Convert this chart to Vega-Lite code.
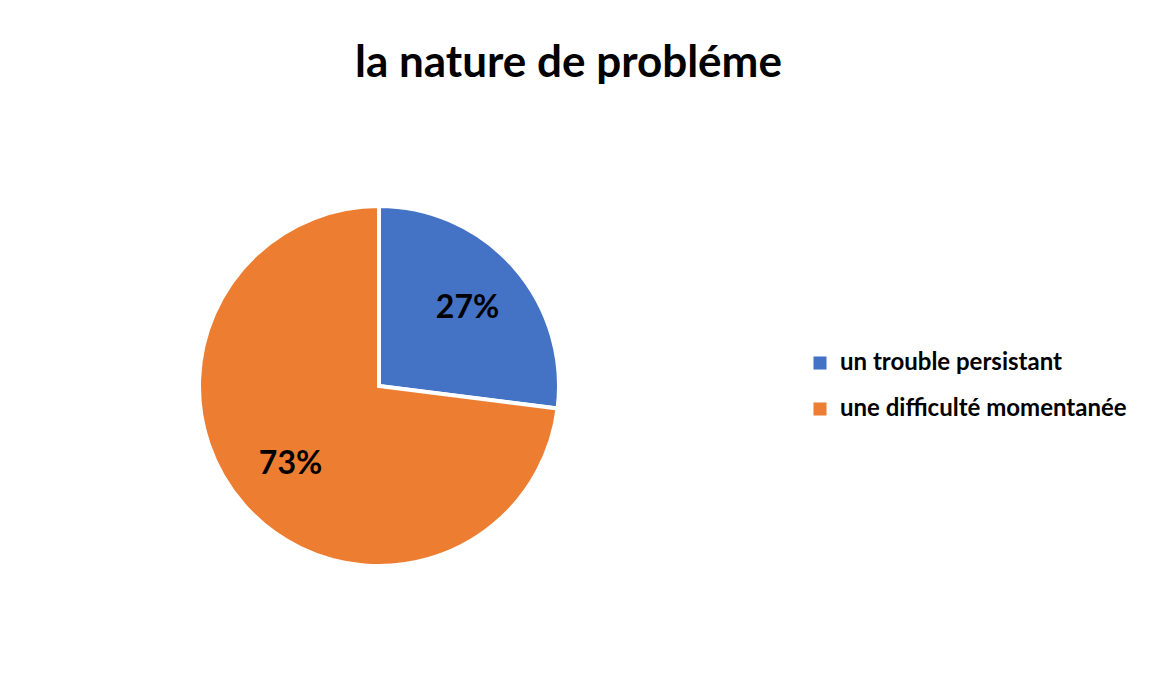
{
  "$schema": "https://vega.github.io/schema/vega-lite/v6.json",
  "width": 1149,
  "height": 676,
  "autosize": {"type": "fit", "contains": "padding"},
  "padding": {"left": 10, "top": 42, "right": 22, "bottom": 20},
  "background": "white",
  "title": {
    "text": "la nature de probléme",
    "font": "Lato",
    "fontSize": 44,
    "fontWeight": "bold",
    "color": "#000000",
    "anchor": "middle",
    "frame": "bounds",
    "offset": 30
  },
  "data": {
    "values": [
      {"categorie": " un trouble persistant", "part": 0.27, "ordre": 1},
      {"categorie": "une difficulté momentanée", "part": 0.73, "ordre": 2}
    ]
  },
  "encoding": {
    "theta": {"field": "part", "type": "quantitative", "stack": true},
    "order": {"field": "ordre", "type": "quantitative"},
    "color": {
      "field": "categorie",
      "type": "nominal",
      "sort": [" un trouble persistant", "une difficulté momentanée"],
      "scale": {"domain": [" un trouble persistant", "une difficulté momentanée"], "range": ["#4472C4", "#ED7D31"]},
      "legend": {
        "title": null,
        "orient": "right",
        "offset": 60,
        "symbolType": "square",
        "symbolSize": 170,
        "symbolStrokeWidth": 0,
        "labelFont": "Lato",
        "labelFontSize": 24,
        "labelFontWeight": "bold",
        "labelColor": "#000000",
        "labelLimit": 400,
        "labelOffset": 8,
        "rowPadding": 22
      }
    }
  },
  "layer": [
    {"mark": {"type": "arc", "outerRadius": 180, "stroke": "white", "strokeWidth": 4}},
    {
      "mark": {"type": "text", "radius": 118, "font": "Lato", "fontSize": 32, "fontWeight": "bold"},
      "encoding": {
        "text": {"field": "part", "type": "quantitative", "format": ".0%"},
        "color": {"value": "#000000"}
      }
    }
  ],
  "config": {
    "view": {"stroke": null},
    "legend": {"layout": {"right": {"anchor": "middle"}}}
  }
}
